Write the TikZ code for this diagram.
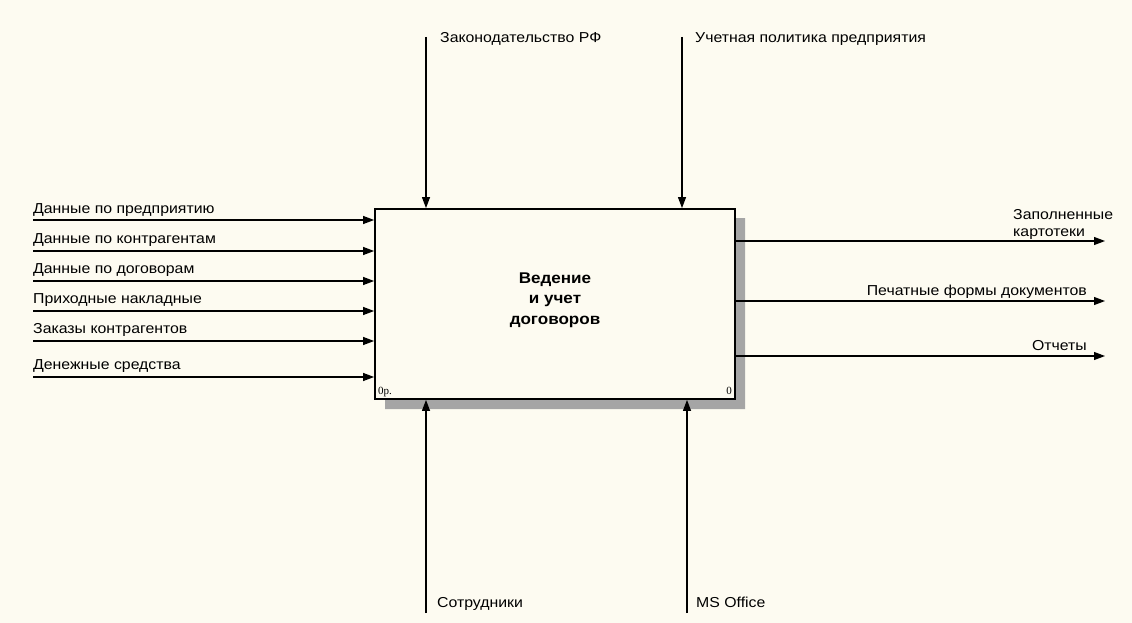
\documentclass[tikz,border=0pt]{standalone}
\usepackage{fontspec}
\setmainfont{Liberation Sans}[FakeStretch=1.1]
\newfontfamily\cornerfont{Liberation Serif}
\usetikzlibrary{arrows.meta,positioning}
\definecolor{PaperCream}{RGB}{253,251,241}
\definecolor{ShadowGray}{RGB}{165,165,165}

\begin{document}
\begin{tikzpicture}[x=1pt, y=-1pt, font=\fontsize{14.4}{17}\selectfont,
    flow/.style={line width=1.1pt, -{Triangle[length=11pt,width=8pt]}},
    lbl/.style={inner sep=0pt, anchor=base west},
    lblr/.style={inner sep=0pt, anchor=base east}]
    \fill[PaperCream] (0,0) rectangle (1132,623);
    \useasboundingbox (0,0) rectangle (1132,623);

    % Shadow and function box
    \fill[ShadowGray] (735,218) -- (745,218) -- (745,409) -- (385,409) -- (385,399) -- (735,399) -- cycle;
    \node[draw, line width=1.8pt, fill=PaperCream, minimum width=360pt, minimum height=190pt, inner sep=0pt] (func) at (555,304) {};
    \node[font=\fontsize{15.5}{20.5}\selectfont\bfseries, align=center] (title) at (555,300) {Ведение\\и учет\\договоров};
    \node[lbl, font=\cornerfont\fontsize{11}{11}\selectfont] (num) at (378,394) {0р.};
    \node[lblr, font=\cornerfont\fontsize{11}{11}\selectfont] (nodeno) at (732,394) {0};

    % Inputs
    \node[lbl] (in1) at (33,213) {Данные по предприятию};
    \node[lbl] (in2) at (33,243) {Данные по контрагентам};
    \node[lbl] (in3) at (33,273) {Данные по договорам};
    \node[lbl] (in4) at (33,303) {Приходные накладные};
    \node[lbl] (in5) at (33,333) {Заказы контрагентов};
    \node[lbl] (in6) at (33,369) {Денежные средства};
    \coordinate (a1) at (33,220);
    \coordinate (a2) at (33,251);
    \coordinate (a3) at (33,281);
    \coordinate (a4) at (33,311);
    \coordinate (a5) at (33,341);
    \coordinate (a6) at (33,377);
    \foreach \i in {1,...,6}
        \draw[flow] (a\i) -- (a\i -| func.west);

    % Controls
    \node[lbl] (ctl1) at (440,43) {Законодательство РФ};
    \node[lbl] (ctl2) at (695,43) {Учетная политика предприятия};
    \coordinate (c1) at (426,37);
    \coordinate (c2) at (682,37);
    \draw[flow] (c1) -- (c1 |- func.north);
    \draw[flow] (c2) -- (c2 |- func.north);

    % Mechanisms
    \node[lbl] (mech1) at (437,607) {Сотрудники};
    \node[lbl] (mech2) at (696,607) {MS Office};
    \coordinate (m1) at (426,613);
    \coordinate (m2) at (687,613);
    \draw[flow] (m1) -- (m1 |- func.south);
    \draw[flow] (m2) -- (m2 |- func.south);

    % Outputs
    \coordinate (o1) at (1105,241);
    \coordinate (o2) at (1105,301);
    \coordinate (o3) at (1105,356);
    \draw[flow] (o1 -| func.east) -- (o1);
    \draw[flow] (o2 -| func.east) -- (o2);
    \draw[flow] (o3 -| func.east) -- (o3);
    \node[lbl, align=left] (out1) at (1013,236) {Заполненные\\картотеки};
    \node[lblr] (out2) at (1087,295) {Печатные формы документов};
    \node[lblr] (out3) at (1087,350) {Отчеты};
\end{tikzpicture}
\end{document}
